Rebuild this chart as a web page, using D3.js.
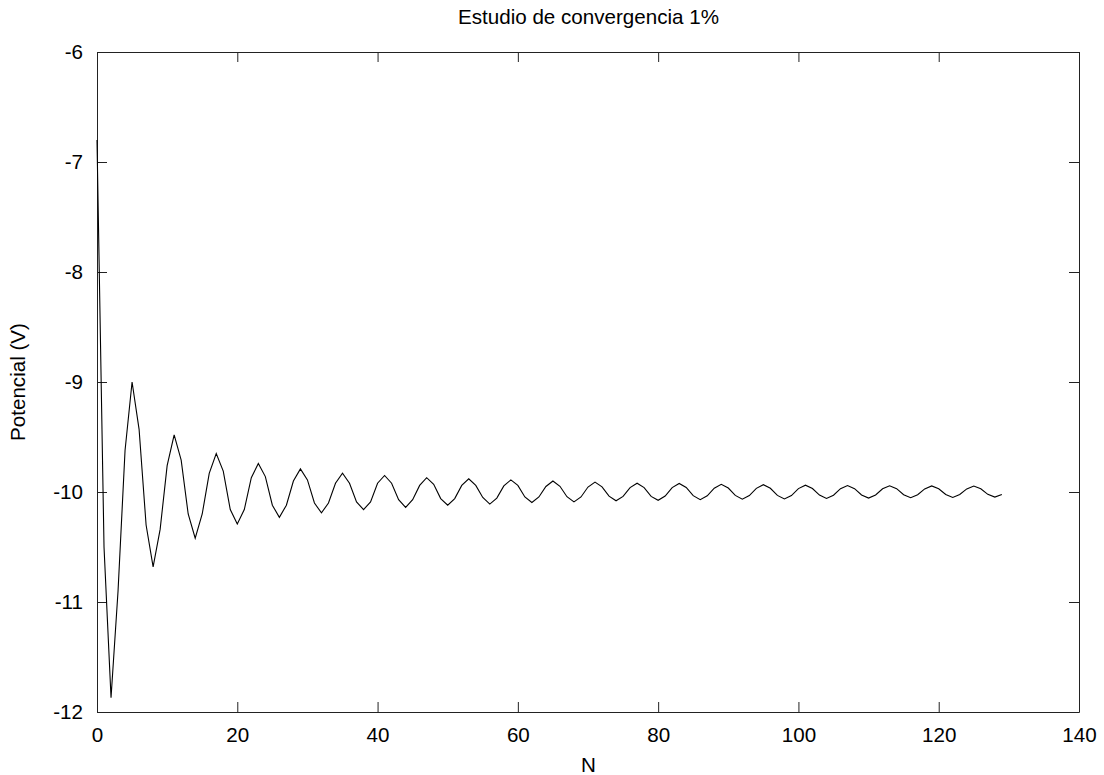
<!DOCTYPE html>
<html>
<head>
<meta charset="utf-8">
<title>Estudio de convergencia 1%</title>
<script src="https://cdn.jsdelivr.net/npm/d3@7"></script>
<style>
  html, body { margin: 0; padding: 0; background: #fff; }
  svg { display: block; }
  text { font-family: "Liberation Sans", Arial, Helvetica, sans-serif; fill: #000; }
</style>
</head>
<body>
<svg id="chart" width="1104" height="775"></svg>
<script>
// Potential at each iteration N (V)
const potencial = [
  -6.80, -10.50, -11.87, -10.90, -9.62, -9.00,
  -9.43, -10.30, -10.68, -10.34, -9.76, -9.48,
  -9.71, -10.20, -10.42, -10.20, -9.83, -9.65,
  -9.81, -10.16, -10.29, -10.16, -9.87, -9.74,
  -9.86, -10.12, -10.23, -10.12, -9.90, -9.79,
  -9.89, -10.10, -10.19, -10.10, -9.92, -9.83,
  -9.92, -10.09, -10.16, -10.09, -9.92, -9.85,
  -9.92, -10.07, -10.14, -10.07, -9.94, -9.87,
  -9.93, -10.06, -10.12, -10.06, -9.94, -9.88,
  -9.94, -10.05, -10.11, -10.055, -9.945, -9.89,
  -9.94, -10.045, -10.095, -10.045, -9.95, -9.90,
  -9.948, -10.043, -10.09, -10.045, -9.955, -9.91,
  -9.953, -10.038, -10.08, -10.04, -9.96, -9.92,
  -9.96, -10.04, -10.075, -10.037, -9.96, -9.922,
  -9.959, -10.033, -10.07, -10.035, -9.965, -9.93,
  -9.964, -10.031, -10.065, -10.032, -9.967, -9.934,
  -9.966, -10.031, -10.063, -10.032, -9.969, -9.938,
  -9.968, -10.028, -10.058, -10.029, -9.97, -9.941,
  -9.97, -10.027, -10.055, -10.027, -9.971, -9.943,
  -9.97, -10.025, -10.052, -10.025, -9.972, -9.945,
  -9.971, -10.023, -10.049, -10.023, -9.972, -9.946,
  -9.971, -10.021, -10.046, -10.022
];
const iteraciones = potencial.map((_, i) => i);

const xTicks = [0, 20, 40, 60, 80, 100, 120, 140];
const yTicks = [-12, -11, -10, -9, -8, -7, -6];

const titulo = "Estudio de convergencia 1%";
const etiquetaX = "N";
const etiquetaY = "Potencial (V)";

const svg = d3.select("#chart");
const plotLeft = 97, plotRight = 1079, plotTop = 52, plotBottom = 712;

const x = d3.scaleLinear().domain([0, 140]).range([plotLeft, plotRight]);
const y = d3.scaleLinear().domain([-12, -6]).range([plotBottom, plotTop]);

const tickLen = 10;
const fontSize = 20.6;

function styleAxis(g) {
  g.selectAll("path.domain").attr("stroke", "#222").attr("stroke-width", 1);
  g.selectAll(".tick line").attr("stroke", "#222").attr("stroke-width", 1);
  g.selectAll("text").attr("font-size", fontSize)
    .attr("font-family", '"Liberation Sans", Arial, Helvetica, sans-serif')
    .attr("fill", "#000");
}

// Bottom axis with labels, ticks pointing inward
svg.append("g")
  .attr("transform", `translate(0,${plotBottom})`)
  .call(d3.axisBottom(x).tickValues(xTicks).tickSizeInner(-tickLen).tickSizeOuter(0).tickPadding(15))
  .call(styleAxis);

// Top mirror ticks
svg.append("g")
  .attr("transform", `translate(0,${plotTop})`)
  .call(d3.axisTop(x).tickValues(xTicks).tickSizeInner(-tickLen).tickSizeOuter(0).tickFormat(""))
  .call(styleAxis);

// Left axis with labels
svg.append("g")
  .attr("transform", `translate(${plotLeft},0)`)
  .call(d3.axisLeft(y).tickValues(yTicks).tickSizeInner(-tickLen).tickSizeOuter(0).tickPadding(14)
    .tickFormat(d => String(d)))
  .call(styleAxis);

// Right mirror ticks
svg.append("g")
  .attr("transform", `translate(${plotRight},0)`)
  .call(d3.axisRight(y).tickValues(yTicks).tickSizeInner(-tickLen).tickSizeOuter(0).tickFormat(""))
  .call(styleAxis);

// Data line
const line = d3.line()
  .x((d, i) => x(iteraciones[i]))
  .y(d => y(d));

svg.append("path")
  .datum(potencial)
  .attr("fill", "none")
  .attr("stroke", "#000")
  .attr("stroke-width", 1.1)
  .attr("stroke-linejoin", "miter")
  .attr("d", line);

// Title and axis labels
const cx = (plotLeft + plotRight) / 2 + 0.5;
svg.append("text")
  .attr("x", cx).attr("y", 24)
  .attr("text-anchor", "middle")
  .attr("font-size", fontSize)
  .text(titulo);

svg.append("text")
  .attr("x", cx).attr("y", 772)
  .attr("text-anchor", "middle")
  .attr("font-size", fontSize)
  .text(etiquetaX);

svg.append("text")
  .attr("transform", `translate(25,${(plotTop + plotBottom) / 2}) rotate(-90)`)
  .attr("text-anchor", "middle")
  .attr("font-size", fontSize)
  .text(etiquetaY);
</script>
</body>
</html>
